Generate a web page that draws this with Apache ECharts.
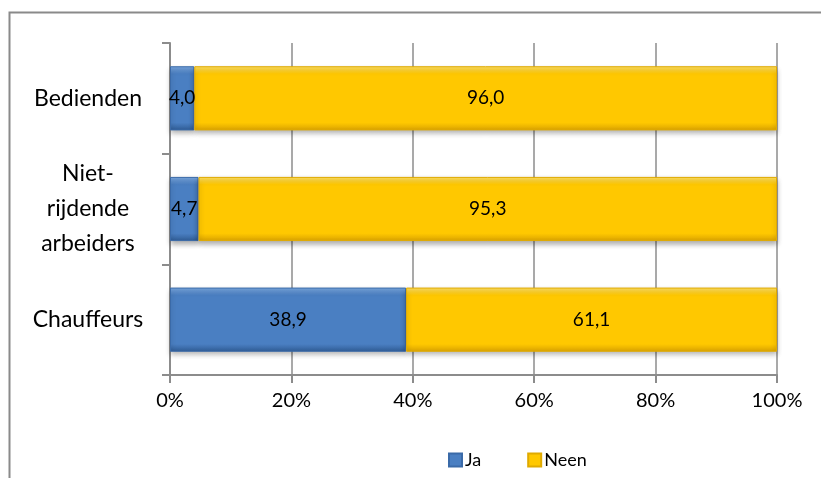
<!DOCTYPE html>
<html>
<head>
<meta charset="utf-8">
<script src="https://cdn.jsdelivr.net/npm/echarts@6/dist/echarts.min.js"></script>
<style>
  html, body { margin: 0; padding: 0; background: #fff; }
  #chart { width: 821px; height: 478px; }
</style>
</head>
<body>
<div id="chart"></div>
<script>
// Beroepsgroepen (van onder naar boven op de as)
const categories = ['Chauffeurs', 'Niet-\nrijdende\narbeiders', 'Bedienden'];
// Aandeel in procent
const jaValues = [38.9, 4.7, 4.0];
const neenValues = [61.1, 95.3, 96.0];
const seriesNames = ['Ja', 'Neen'];
const xTicks = [0, 20, 40, 60, 80, 100];

const FONT = 'Lato, "Open Sans", sans-serif';
const AXIS_GRAY = '#8c8c8c';

function bevel(light, mid, dark) {
  return new echarts.graphic.LinearGradient(0, 0, 0, 1, [
    { offset: 0, color: light },
    { offset: 0.12, color: mid },
    { offset: 0.88, color: mid },
    { offset: 1, color: dark }
  ]);
}

const fmt = (p) => p.value.toFixed(1).replace('.', ',');

const chart = echarts.init(document.getElementById('chart'), null, { renderer: 'canvas' });

chart.setOption({
  animation: false,
  backgroundColor: '#ffffff',
  graphic: [{
    type: 'rect',
    shape: { x: 9.5, y: 12.5, width: 830, height: 480 },
    style: { fill: 'none', stroke: '#8a8a8a', lineWidth: 2 },
    silent: true
  }],
  grid: { left: 170, right: 44, top: 43, bottom: 103, containLabel: false },
  legend: {
    top: 446,
    left: 443,
    itemWidth: 13,
    itemHeight: 13,
    itemGap: 46,
    icon: 'rect',
    textStyle: { fontFamily: FONT, fontSize: 18, color: '#000', padding: [0, 0, 0, -2] },
    data: seriesNames
  },
  xAxis: {
    type: 'value',
    min: xTicks[0],
    max: xTicks[xTicks.length - 1],
    interval: 20,
    axisLine: { show: true, lineStyle: { color: AXIS_GRAY, width: 2 } },
    axisTick: { show: true, length: 8, lineStyle: { color: AXIS_GRAY, width: 2 } },
    splitLine: { show: true, lineStyle: { color: AXIS_GRAY, width: 1.5 } },
    axisLabel: {
      fontFamily: FONT, fontSize: 20, color: '#000', margin: 16,
      formatter: '{value}%'
    }
  },
  yAxis: {
    type: 'category',
    data: categories,
    axisLine: { show: true, lineStyle: { color: AXIS_GRAY, width: 2 } },
    axisTick: { show: true, length: 8, lineStyle: { color: AXIS_GRAY, width: 2 } },
    axisLabel: {
      fontFamily: FONT, fontSize: 23, color: '#000',
      margin: 82,
      align: 'center',
      lineHeight: 35
    }
  },
  series: [
    {
      name: seriesNames[0],
      type: 'bar',
      stack: 'totaal',
      barWidth: '58%',
      data: jaValues,
      itemStyle: {
        color: bevel('#7aa8e0', '#4a7fc2', '#2f5b94'),
        borderColor: '#3a6aa8',
        borderWidth: 1,
        shadowBlur: 5,
        shadowOffsetY: 3,
        shadowColor: 'rgba(0,0,0,0.3)'
      },
      label: {
        show: true, position: 'inside', formatter: fmt,
        fontFamily: FONT, fontSize: 19, color: '#000'
      }
    },
    {
      name: seriesNames[1],
      type: 'bar',
      stack: 'totaal',
      barWidth: '58%',
      data: neenValues,
      itemStyle: {
        color: bevel('#ffe066', '#ffc800', '#d9a200'),
        borderColor: '#e0aa00',
        borderWidth: 1,
        shadowBlur: 5,
        shadowOffsetY: 3,
        shadowColor: 'rgba(0,0,0,0.3)'
      },
      label: {
        show: true, position: 'inside', formatter: fmt,
        fontFamily: FONT, fontSize: 19, color: '#000'
      }
    }
  ]
});
</script>
</body>
</html>
